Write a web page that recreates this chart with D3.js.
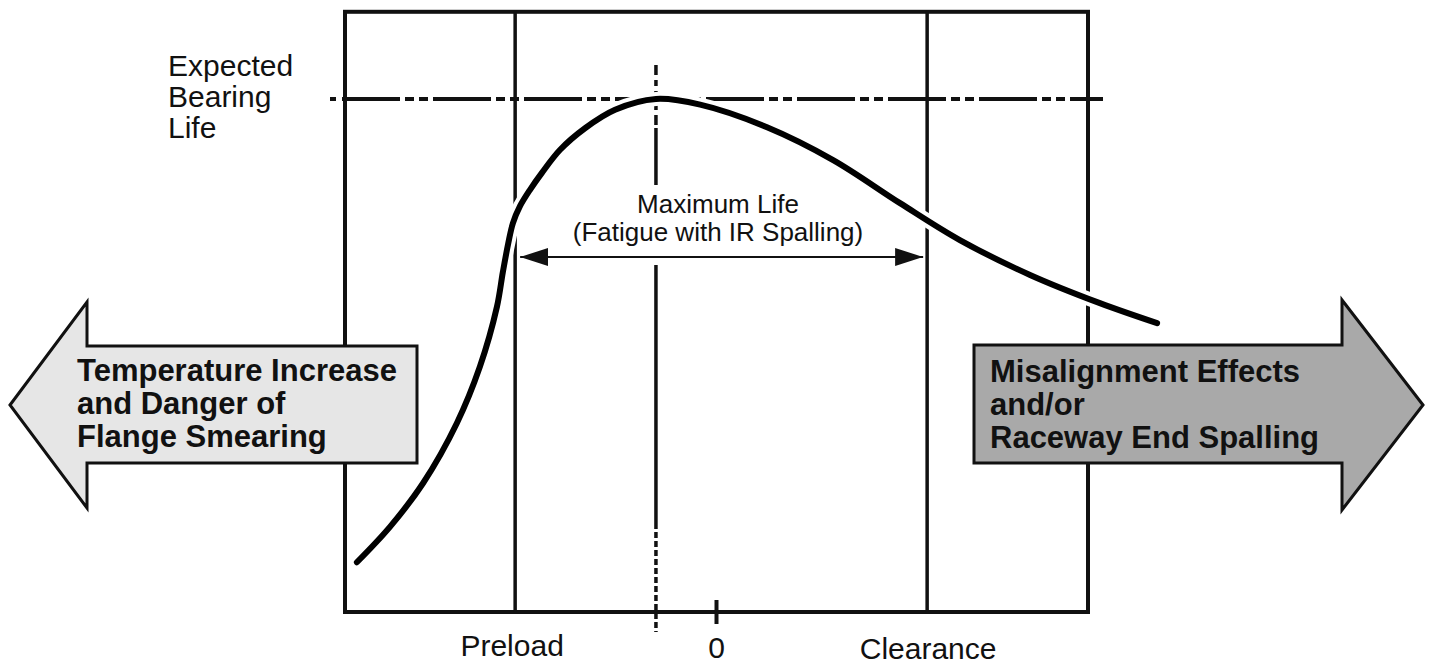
<!DOCTYPE html>
<meta charset="utf-8">
<html>
  <head>
    <title>Bearing life vs clearance</title>
    <style>
      html, body { margin: 0; padding: 0; background: #fff; }
      text { font-family: "Liberation Sans", Arial, Helvetica, sans-serif; fill: #111; }
      .bold { font-weight: 700; }
    </style>
  </head>
  <body>
    <svg xmlns="http://www.w3.org/2000/svg"></svg>
    <script src="https://d3js.org/d3.v7.min.js"></script>
    <script>
      var width = 1432, height = 664;

      // clearance axis: negative = preload, positive = clearance (arbitrary units)
      var curveX = [-9.68, -8.79, -7.90, -6.99, -6.37, -5.91, -5.75, -5.61, -5.48, -5.29, -5.02, -4.70, -4.21,
                    -3.54, -2.73, -1.63, -0.44, 1.36, 3.14, 4.94, 6.55, 8.44, 10.32, 11.86];
      // bearing life, % of expected life
      var curveY = [9.7, 16.6, 25.1, 36.8, 47.8, 59.5, 66.3, 71.7, 75.8, 79.1, 82.3, 85.6, 90.1,
                    94.3, 97.9, 100, 98.9, 94.5, 88.1, 79.7, 72.5, 65.7, 60.2, 56.3];

      var boundNames = ["Preload", "Clearance"];
      var boundValues = [-5.42, 5.67];
      var zeroLabel = "0";
      var peakX = -1.63;
      var expectedLife = 100;
      var xDomain = [-10, 10];
      var yDomain = [0, 117];

      var lifeLabel = ["Expected", "Bearing", "Life"];
      var maxLifeLabel = ["Maximum Life", "(Fatigue with IR Spalling)"];
      var leftLabel = ["Temperature Increase", "and Danger of", "Flange Smearing"];
      var rightLabel = ["Misalignment Effects", "and/or", "Raceway End Spalling"];

      var x = d3.scaleLinear().domain(xDomain).range([345, 1088]);
      var y = d3.scaleLinear().domain([0, 100]).range([612, 99]);

      var svg = d3.select("svg").attr("width", width).attr("height", height);

      // frame
      svg.append("rect")
        .attr("x", x(xDomain[0])).attr("y", y(yDomain[1]))
        .attr("width", x(xDomain[1]) - x(xDomain[0]))
        .attr("height", y(yDomain[0]) - y(yDomain[1]))
        .attr("fill", "none").attr("stroke", "#111").attr("stroke-width", 4);

      // preload / clearance limits
      svg.selectAll("line.bound").data(boundValues).enter().append("line")
        .attr("class", "bound")
        .attr("x1", function(d){ return x(d); }).attr("x2", function(d){ return x(d); })
        .attr("y1", y(yDomain[1])).attr("y2", y(0))
        .attr("stroke", "#111").attr("stroke-width", 3.5);

      // expected life line (phantom)
      svg.append("line")
        .attr("x1", 330).attr("x2", 1103)
        .attr("y1", y(expectedLife)).attr("y2", y(expectedLife))
        .attr("stroke", "#111").attr("stroke-width", 4)
        .attr("stroke-dasharray", "6 6 58 5 9 5 9 5 58 5 9 5 9 5 58 5 9 5 9 5 58 5 9 5 9 5 58 5 9 5 9 5 58 5 9 5 9 5 58 5 9 5 9 5 58 5 9 5 9 5 58 5 9 5 9 5");

      // max life centre line
      var cx = x(peakX);
      svg.append("line")
        .attr("x1", cx).attr("x2", cx).attr("y1", 65).attr("y2", 128)
        .attr("stroke", "#111").attr("stroke-width", 3.5)
        .attr("stroke-dasharray", "10 5 6 5 7 5 7 5");
      svg.append("line")
        .attr("x1", cx).attr("x2", cx).attr("y1", 128).attr("y2", 185)
        .attr("stroke", "#111").attr("stroke-width", 3.5);
      svg.append("line")
        .attr("x1", cx).attr("x2", cx).attr("y1", 265).attr("y2", 523)
        .attr("stroke", "#111").attr("stroke-width", 3.5);
      svg.append("line")
        .attr("x1", cx).attr("x2", cx).attr("y1", 523).attr("y2", 632)
        .attr("stroke", "#111").attr("stroke-width", 3.5)
        .attr("stroke-dasharray", "6 3");

      // zero tick
      svg.append("line")
        .attr("x1", x(0)).attr("x2", x(0)).attr("y1", 600).attr("y2", 624)
        .attr("stroke", "#111").attr("stroke-width", 4);

      // life curve with white halo
      var pts = curveX.map(function(d, i){ return [d, curveY[i]]; });
      var line = d3.line()
        .x(function(d){ return x(d[0]); })
        .y(function(d){ return y(d[1]); })
        .curve(d3.curveCatmullRom.alpha(0.5));
      svg.append("path").attr("d", line(pts))
        .attr("fill", "none").attr("stroke", "#fff").attr("stroke-width", 14);
      svg.append("path").attr("d", line(pts))
        .attr("fill", "none").attr("stroke", "#000").attr("stroke-width", 6)
        .attr("stroke-linecap", "round");

      // double-headed arrow for max life range
      var defs = svg.append("defs");
      defs.append("marker").attr("id", "ah").attr("viewBox", "0 0 28 18")
        .attr("refX", 28).attr("refY", 9)
        .attr("markerWidth", 28).attr("markerHeight", 18)
        .attr("markerUnits", "userSpaceOnUse").attr("orient", "auto-start-reverse")
        .append("path").attr("d", "M0,0 L28,9 L0,18 Z").attr("fill", "#111");
      svg.append("line")
        .attr("x1", x(boundValues[0]) + 5).attr("x2", x(boundValues[1]) - 4)
        .attr("y1", 257).attr("y2", 257)
        .attr("stroke", "#111").attr("stroke-width", 2)
        .attr("marker-start", "url(#ah)").attr("marker-end", "url(#ah)");

      svg.append("g").selectAll("text").data(maxLifeLabel).enter().append("text")
        .attr("x", 718).attr("y", function(d, i){ return 213 + i * 28; })
        .attr("text-anchor", "middle").style("font-size", "26px")
        .text(function(d){ return d; });

      // expected life label
      svg.append("g").selectAll("text").data(lifeLabel).enter().append("text")
        .attr("x", 168).attr("y", function(d, i){ return 76 + i * 31; })
        .style("font-size", "30px")
        .text(function(d){ return d; });

      // axis labels
      svg.selectAll("text.bound").data(boundNames).enter().append("text")
        .attr("class", "bound")
        .attr("x", function(d, i){ return x(boundValues[i]) - (i ? -1 : 3); })
        .attr("y", function(d, i){ return i ? 659 : 656; })
        .attr("text-anchor", "middle").style("font-size", "30px")
        .text(function(d){ return d; });
      svg.append("text").attr("x", x(0)).attr("y", 658)
        .attr("text-anchor", "middle").style("font-size", "30px").text(zeroLabel);

      // big side arrows
      svg.append("path")
        .attr("d", "M10,405 L87,302 L87,346 L417,346 L417,463 L87,463 L87,508 Z")
        .attr("fill", "#e6e6e6").attr("stroke", "#111").attr("stroke-width", 3)
        .attr("stroke-linejoin", "miter");
      svg.append("g").selectAll("text").data(leftLabel).enter().append("text")
        .attr("class", "bold").attr("x", 77).attr("y", function(d, i){ return 381 + i * 33; })
        .style("font-size", "31px")
        .text(function(d){ return d; });

      svg.append("path")
        .attr("d", "M1423,405 L1342,300 L1342,345 L974,345 L974,463 L1342,463 L1342,510 Z")
        .attr("fill", "#a9a9a9").attr("stroke", "#111").attr("stroke-width", 3)
        .attr("stroke-linejoin", "miter");
      svg.append("g").selectAll("text").data(rightLabel).enter().append("text")
        .attr("class", "bold").attr("x", 990).attr("y", function(d, i){ return 382 + i * 33; })
        .style("font-size", "31px")
        .text(function(d){ return d; });
    </script>
  </body>
</html>
